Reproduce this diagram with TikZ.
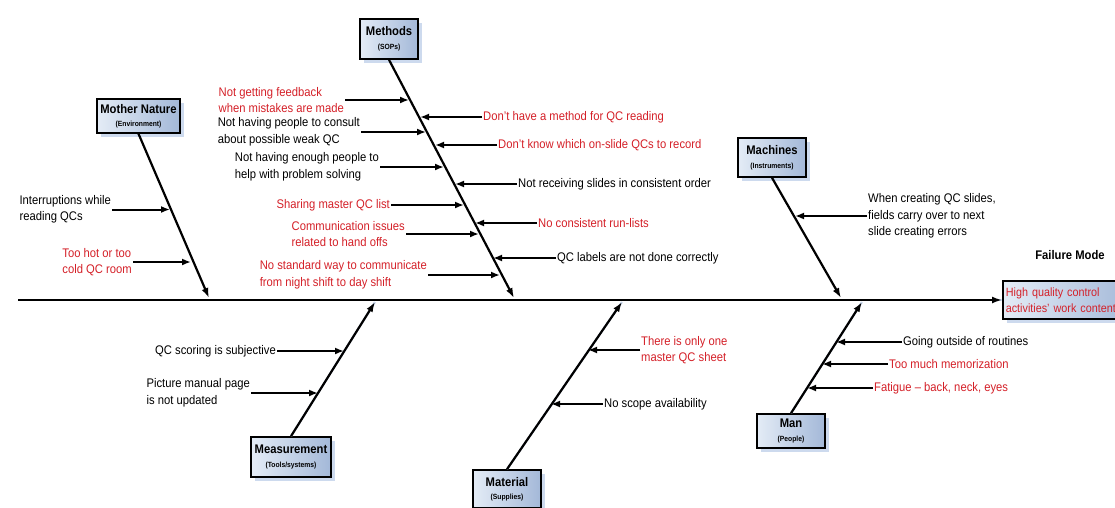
\documentclass[tikz,border=0pt]{standalone}
\usepackage{fontspec}
\setmainfont{Liberation Sans}[FakeStretch=0.9]
\usetikzlibrary{arrows.meta,shadows}
\definecolor{boxlight}{RGB}{228,236,246}
\definecolor{boxdark}{RGB}{163,184,216}
\definecolor{shade}{RGB}{205,218,238}
\definecolor{causered}{RGB}{212,32,40}
\tikzset{cat/.style={draw, line width=1.6pt, left color=boxlight, right color=boxdark,
    drop shadow={shadow xshift=4pt, shadow yshift=-4pt, fill=shade, opacity=1},
    align=center, inner sep=1pt, font=\fontsize{12.5}{12.5}\selectfont\bfseries},
  note/.style={align=left, inner sep=1pt, font=\fontsize{12.5}{16.5}\selectfont},
  hot/.style={text=causered},
  bone/.style={-{Latex[length=10pt,width=7pt]}, line width=2.2pt},
  boneshadow/.style={draw=shade, line width=2.2pt, shift={(3,3)}},
  sub/.style={-{Latex[length=9pt,width=7pt]}, line width=2pt}}
\newcommand{\catsub}[1]{\\[1pt]{\fontsize{7.5}{8}\selectfont #1}}

\begin{document}
\begin{tikzpicture}[x=1pt,y=-1pt]
  \useasboundingbox (0,0) rectangle (1115,508);
  % category boxes
  \node[cat, minimum width=83, minimum height=34] (nature) at (138.5,116) {Mother Nature\catsub{(Environment)}};
  \node[cat, minimum width=58, minimum height=40] (methods) at (389,39) {Methods\catsub{(SOPs)}};
  \node[cat, minimum width=68, minimum height=39] (machines) at (772,157.5) {Machines\catsub{(Instruments)}};
  \node[cat, minimum width=80, minimum height=40] (measure) at (291,457) {Measurement\catsub{(Tools/systems)}};
  \node[cat, minimum width=68, minimum height=38] (material) at (507,489) {Material\catsub{(Supplies)}};
  \node[cat, minimum width=68, minimum height=34] (man) at (791,431) {Man\catsub{(People)}};
  % effect
  \node[font=\fontsize{12.5}{12.5}\selectfont\bfseries] (fmode) at (1070,255) {Failure Mode};
  \node[cat, font=\fontsize{12}{16}\selectfont, text=causered, align=left, anchor=west, minimum width=130,
    minimum height=38, text width=124, inner sep=1.5pt] (effect) at (1002,300)
    {High quality control\\activities’ work content};
  \coordinate (tail) at (18,300);
  \coordinate (nhead) at (209,298);
  \coordinate (mhead) at (514,298);
  \coordinate (chead) at (841,298);
  \coordinate (shead) at (375,302);
  \coordinate (thead) at (622,302);
  \coordinate (phead) at (862,302);
  % spine and bones
  \draw[boneshadow] (tail) -- (effect.west);
  \draw[boneshadow] (measure.north) -- (shead);
  \draw[boneshadow] (material.north) -- (thead);
  \draw[boneshadow] (man.north) -- (phead);
  \draw[bone] (tail) -- (effect.west);
  \draw[bone] (nature.south) -- (nhead);
  \draw[bone] (methods.south) -- (mhead);
  \draw[bone] (machines.south) -- (chead);
  \draw[bone] (measure.north) -- (shead);
  \draw[bone] (material.north) -- (thead);
  \draw[bone] (man.north) -- (phead);
  % mother nature
  \node[note, anchor=east] (n1) at (112,209.5) {Interruptions while\\reading QCs};
  \node[note, hot, anchor=east] (n2) at (133,262) {Too hot or too\\cold QC room};
  \coordinate (n1t) at (170,209.5);
  \coordinate (n2t) at (191,262);
  % methods, left
  \node[note, hot, anchor=east] (m1) at (345,100) {Not getting feedback\\when mistakes are made};
  \node[note, anchor=east] (m2) at (361,132) {Not having people to consult\\about possible weak QC};
  \node[note, anchor=east] (m3) at (380,167) {Not having enough people to\\help with problem solving};
  \node[note, hot, anchor=east] (m4) at (391,205) {Sharing master QC list};
  \node[note, hot, anchor=east] (m5) at (406,234) {Communication issues\\related to hand offs};
  \node[note, hot, anchor=east] (m6) at (428,275) {No standard way to communicate\\from night shift to day shift};
  \coordinate (m1t) at (409,100);
  \coordinate (m2t) at (426,132);
  \coordinate (m3t) at (444,167);
  \coordinate (m4t) at (464,205);
  \coordinate (m5t) at (479,234);
  \coordinate (m6t) at (500,275);
  % methods, right
  \node[note, hot, anchor=west] (m7) at (482,117) {Don't have a method for QC reading};
  \node[note, hot, anchor=west] (m8) at (497,145) {Don't know which on-slide QCs to record};
  \node[note, anchor=west] (m9) at (517,184) {Not receiving slides in consistent order};
  \node[note, hot, anchor=west] (m10) at (537,223) {No consistent run-lists};
  \node[note, anchor=west] (m11) at (556,258) {QC labels are not done correctly};
  \coordinate (m7t) at (420,117);
  \coordinate (m8t) at (435,145);
  \coordinate (m9t) at (455,184);
  \coordinate (m10t) at (475,223);
  \coordinate (m11t) at (493,258);
  % machines
  \node[note, anchor=west] (c1) at (867,216) {When creating QC slides,\\fields carry over to next\\slide creating errors};
  \coordinate (c1t) at (795,216);
  % measurement
  \node[note, anchor=east] (s1) at (277,351) {QC scoring is subjective};
  \node[note, anchor=east] (s2) at (251,393) {Picture manual page\\is not updated};
  \coordinate (s1t) at (344,351);
  \coordinate (s2t) at (318,393);
  % material
  \node[note, hot, anchor=west] (t1) at (640,350) {There is only one\\master QC sheet};
  \node[note, anchor=west] (t2) at (603,404) {No scope availability};
  \coordinate (t1t) at (588,350);
  \coordinate (t2t) at (551,404);
  % man
  \node[note, anchor=west] (p1) at (902,342) {Going outside of routines};
  \node[note, hot, anchor=west] (p2) at (888,364) {Too much memorization};
  \node[note, hot, anchor=west] (p3) at (873,388) {Fatigue -- back, neck, eyes};
  \coordinate (p1t) at (836,342);
  \coordinate (p2t) at (822,364);
  \coordinate (p3t) at (807,388);
  % sub-cause arrows
  \foreach \a in {n1,n2,m1,m2,m3,m4,m5,m6,m7,m8,m9,m10,m11,c1,s1,s2,t1,t2,p1,p2,p3}
    \draw[sub] (\a) -- (\a t);
\end{tikzpicture}
\end{document}
